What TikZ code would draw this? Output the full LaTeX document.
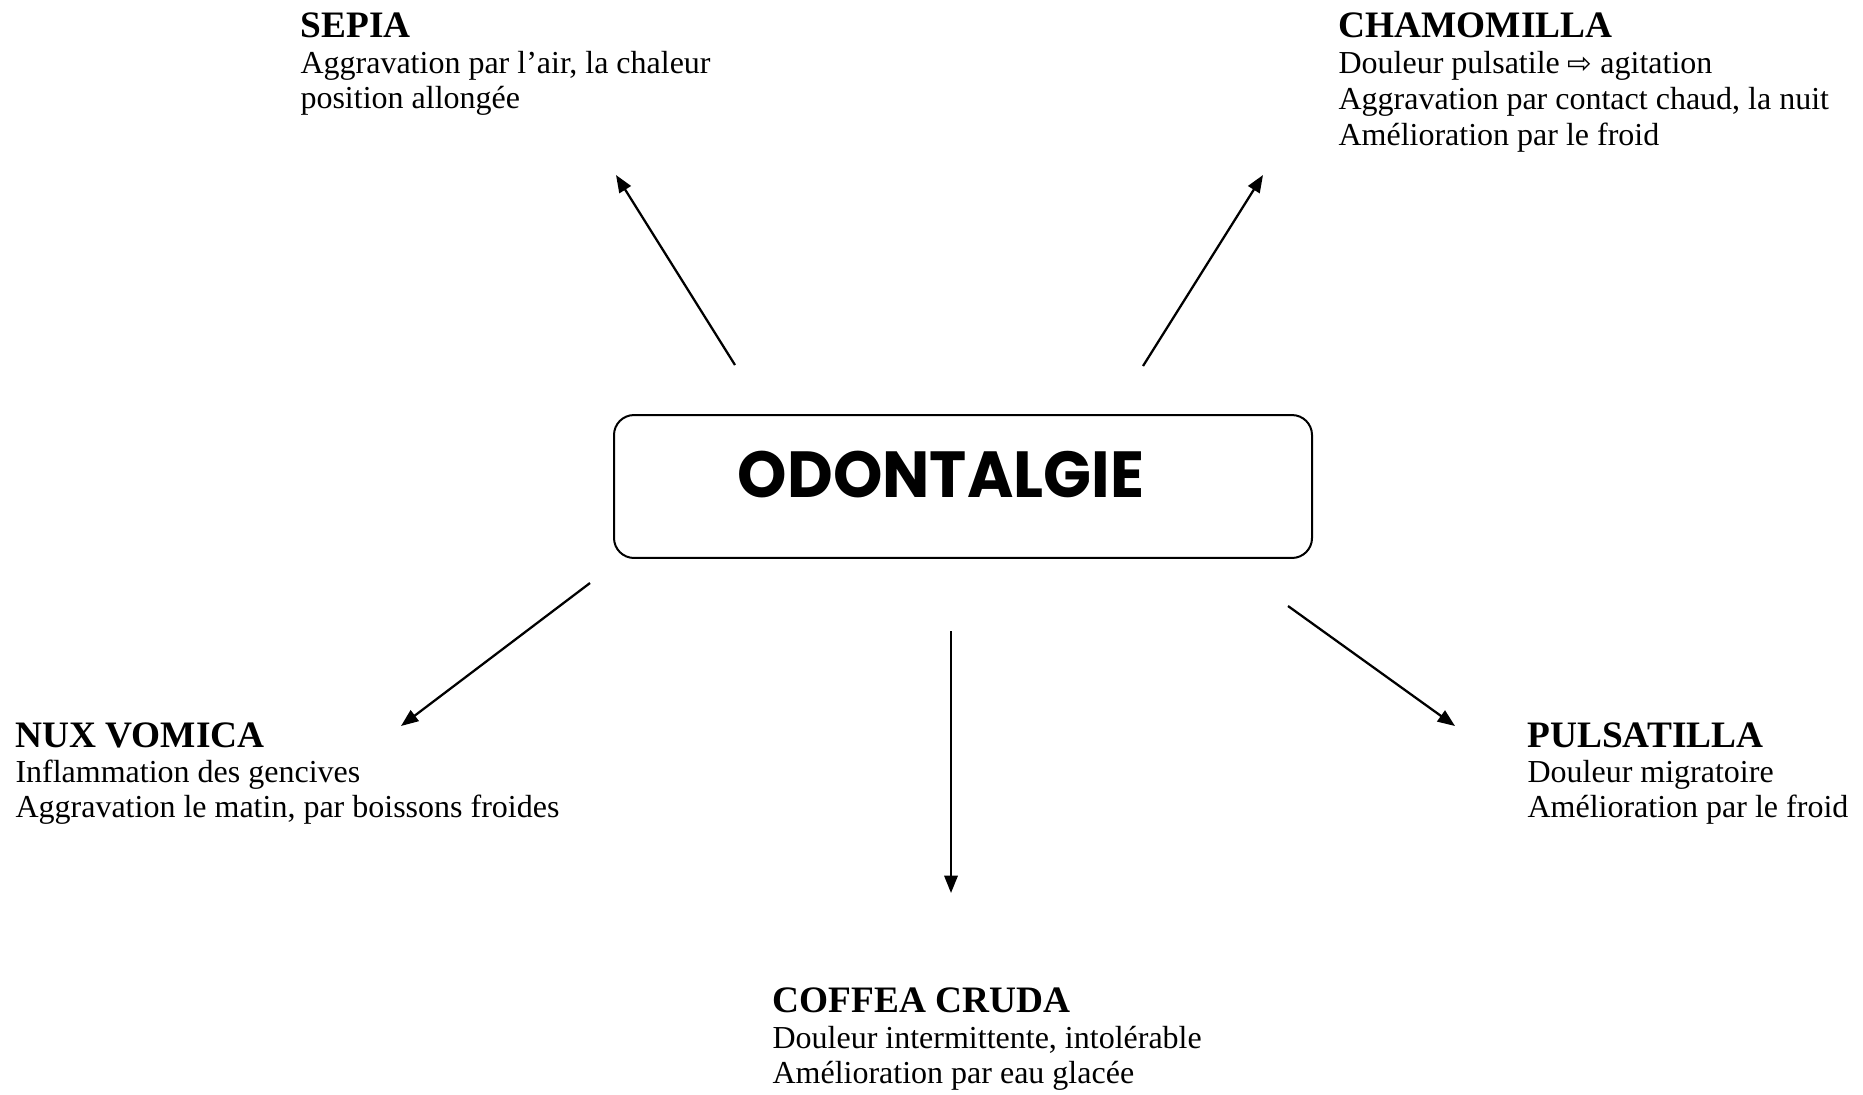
\documentclass[tikz,border=0pt]{standalone}
\usepackage{fontspec}
\usepackage{graphicx}
\setmainfont{Liberation Serif}
\newfontfamily\odofont{Poppins}
\newfontfamily\symfont{DejaVu Sans}
\usetikzlibrary{arrows.meta}
\tikzset{
  x=0.375pt, y=-0.375pt,
  title/.style={anchor=base west, inner sep=0pt, font=\fontsize{14}{16}\selectfont\bfseries},
  body/.style={anchor=base west, inner sep=0pt, font=\fontsize{12}{14}\selectfont},
  arr/.style={line width=0.85pt, -{Triangle[length=6.5pt,width=5pt]}},
  centrebox/.style={draw, line width=0.75pt, rounded corners=7.5pt, minimum width=261.75pt, minimum height=53.6pt, inner sep=0pt}
}
\begin{document}
\begin{tikzpicture}
\useasboundingbox (0,0) rectangle (1863,1094);
% central box
\node[centrebox] (box) at (963,486.5) {};
\node[inner sep=0pt] (odo) at (941,474.5) {\resizebox{152.25pt}{17.4pt}{\odofont\bfseries ODONTALGIE}};
% SEPIA
\node[title] (sepiaT) at (300,37) {SEPIA};
\node[body] (sepia1) at (300,73) {Aggravation par l’air, la chaleur};
\node[body] (sepia2) at (300,108.5) {position allongée};
% CHAMOMILLA
\node[title] (chamT) at (1338,37) {CHAMOMILLA};
\node[body] (cham1) at (1338,73) {Douleur pulsatile {\symfont\fontsize{11}{11}\selectfont ⇨} agitation};
\node[body] (cham2) at (1338,109) {Aggravation par contact chaud, la nuit};
\node[body] (cham3) at (1338,145) {Amélioration par le froid};
% NUX VOMICA
\node[title] (nuxT) at (15,747) {NUX VOMICA};
\node[body] (nux1) at (15,782) {Inflammation des gencives};
\node[body] (nux2) at (15,817) {Aggravation le matin, par boissons froides};
% PULSATILLA
\node[title] (pulsT) at (1527,747) {PULSATILLA};
\node[body] (puls1) at (1527,782) {Douleur migratoire};
\node[body] (puls2) at (1527,817) {Amélioration par le froid};
% COFFEA CRUDA
\node[title] (cofT) at (772,1012) {COFFEA CRUDA};
\node[body] (cof1) at (772,1048) {Douleur intermittente, intolérable};
\node[body] (cof2) at (772,1083) {Amélioration par eau glacée};
% arrow ends
\coordinate (sS) at (735,365);  \coordinate (tS) at (616,175);
\coordinate (sC) at (1143,366); \coordinate (tC) at (1263,175);
\coordinate (sN) at (590,583);  \coordinate (tN) at (401,726);
\coordinate (sP) at (1288,606); \coordinate (tP) at (1455,726);
\coordinate (sF) at (951,631);  \coordinate (tF) at (951,893);
\draw[arr] (sS) -- (tS);
\draw[arr] (sC) -- (tC);
\draw[arr] (sN) -- (tN);
\draw[arr] (sP) -- (tP);
\draw[arr] (sF) -- (tF);
\end{tikzpicture}
\end{document}
